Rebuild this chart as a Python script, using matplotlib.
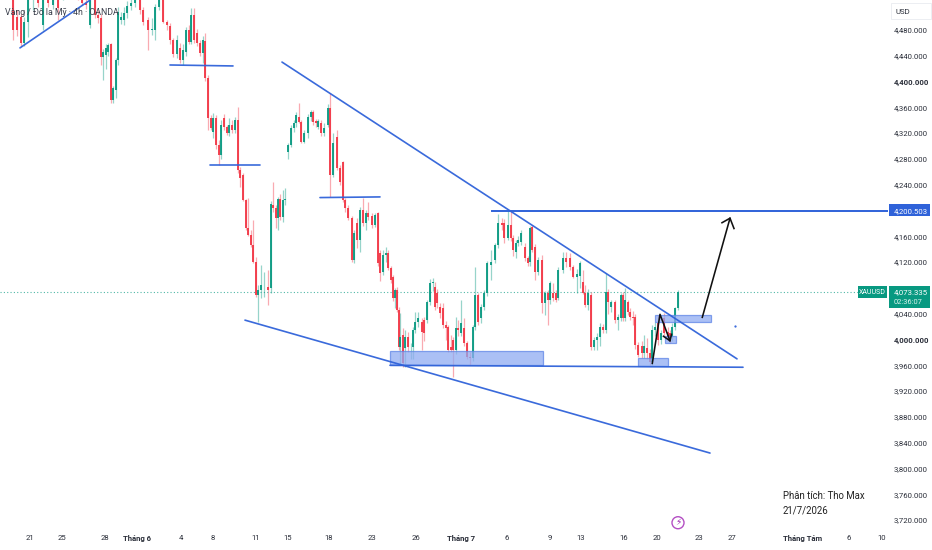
import matplotlib
matplotlib.use("Agg")
import matplotlib.pyplot as plt
from matplotlib.patches import Rectangle

plt.rcParams['font.family'] = ['Roboto', 'DejaVu Sans']

bar_x = [13,17,21,24,28,33,38,43,48,53,
58,63,68,73,78,82,86,90,95,98,
101,103,106,108,111,113,116,118,121,124,
127,131,135,140,143,148,152,155,159,163,
167,170,173,177,180,183,186,189,191,194,
197,200,203,205,208,211,213,216,219,221,
224,227,229,232,235,238,240,243,246,248,
251,253,256,258,261,264,268,271,273,276,
278,280,283,285,288,291,294,296,299,301,
304,308,311,313,316,318,321,324,328,330,
333,337,340,343,345,348,352,354,357,360,
363,366,368,372,375,378,380,383,386,388,
391,393,395,397,399,400,403,405,408,411,
413,415,418,422,424,427,430,433,435,437,
440,443,446,448,451,453,456,458,461,464,
467,470,473,475,478,481,484,487,491,495,
498,502,504,508,511,513,516,518,521,525,
528,530,532,535,538,542,545,548,550,553,
556,558,563,566,570,573,577,580,583,585,
588,591,594,597,600,603,606,608,611,615,
618,621,623,625,628,630,633,635,638,642,
644,647,650,652,655,658,661,664,668,670,
672,675,678]

opens = [4526,4500,4500,4459,4492,4526,4535,4487,4526,4519,
4530,4528,4540,4550,4545,4530,4522,4487,4526,4503,
4498,4438,4441,4446,4458,4371,4386,4433,4495,4495,
4506,4517,4521,4526,4511,4495,4480,4480,4515,4526,
4492,4486,4464,4442,4452,4433,4445,4480,4461,4503,
4475,4459,4444,4462,4405,4343,4321,4343,4301,4286,
4343,4329,4320,4332,4325,4340,4263,4255,4216,4173,
4162,4146,4120,4069,4077,4081,4081,4080,4208,4204,
4188,4218,4190,4216,4290,4301,4328,4335,4345,4337,
4306,4320,4345,4352,4338,4330,4335,4320,4332,4359,
4255,4314,4266,4275,4216,4204,4188,4123,4180,4154,
4201,4180,4196,4191,4177,4196,4134,4104,4131,4134,
4111,4097,4064,4076,4045,3988,4007,3987,4004,3988,
3988,4015,4027,4027,4030,4030,4058,4087,4081,4072,
4050,4049,4022,4019,3988,3999,3984,4018,4010,4018,
3994,3973,3971,4019,4069,4033,4050,4072,4115,4123,
4146,4180,4180,4157,4177,4158,4135,4150,4151,4143,
4126,4120,4174,4143,4104,4123,4056,4072,4061,4072,
4072,4064,4108,4126,4126,4112,4097,4098,4089,4072,
4053,4069,3988,3999,4004,4019,4015,4073,4050,4058,
4030,4033,4069,4033,4058,4042,4035,4035,3991,3990,
3979,3987,3979,3965,4015,4025,3999,4033,4011,4010,
4004,4019,4049]

closes = [4480,4480,4459,4492,4526,4535,4521,4526,4521,4530,
4514,4540,4550,4545,4530,4521,4518,4526,4503,4498,
4438,4445,4452,4456,4371,4390,4433,4507,4500,4506,
4517,4521,4528,4511,4492,4480,4481,4515,4526,4492,
4487,4464,4442,4464,4433,4449,4480,4461,4503,4464,
4459,4444,4464,4405,4343,4328,4343,4301,4286,4332,
4329,4320,4332,4325,4340,4263,4250,4216,4173,4162,
4146,4120,4069,4077,4084,4082,4076,4210,4204,4188,
4218,4190,4216,4217,4301,4328,4335,4348,4337,4306,
4320,4345,4352,4337,4335,4338,4320,4328,4359,4255,
4304,4266,4244,4216,4204,4188,4123,4165,4154,4201,
4180,4196,4190,4177,4193,4118,4103,4131,4134,4111,
4092,4064,4076,4045,3988,4004,3963,4004,3988,3989,
4015,4027,4033,4011,4010,4058,4087,4089,4050,4056,
4041,4022,4018,3984,3984,3984,4018,4015,4025,3994,
3973,3971,4019,4069,4027,4050,4072,4118,4120,4146,
4180,4177,4157,4177,4157,4139,4150,4154,4165,4126,
4118,4173,4139,4104,4123,4056,4072,4061,4087,4064,
4061,4108,4126,4120,4112,4097,4101,4118,4072,4053,
4072,3988,3999,4004,4019,4015,4073,4058,4058,4030,
4035,4069,4033,4061,4042,4035,4033,3991,3976,3979,
3990,3979,3965,4015,4019,3999,4010,4010,4004,3999,
4019,4049,4073.335]

highs = [4535,4510,4505,4500,4535,4545,4545,4535,4535,4540,
4540,4550,4560,4560,4555,4540,4530,4535,4535,4510,
4505,4450,4458,4459,4460,4393,4436,4515,4507,4515,
4525,4530,4535,4535,4515,4500,4498,4520,4535,4532,
4495,4490,4468,4472,4460,4458,4485,4488,4514,4514,
4482,4464,4470,4475,4410,4348,4351,4348,4310,4340,
4350,4333,4343,4340,4345,4360,4268,4258,4218,4220,
4170,4185,4128,4085,4115,4104,4108,4214,4244,4208,
4221,4225,4232,4235,4305,4332,4340,4352,4366,4340,
4325,4350,4356,4356,4342,4342,4340,4335,4365,4382,
4320,4325,4270,4277,4220,4208,4192,4170,4188,4205,
4219,4200,4213,4196,4196,4198,4138,4139,4143,4139,
4114,4100,4080,4082,4050,4041,4018,4015,4011,3995,
4020,4042,4042,4033,4035,4062,4094,4096,4089,4079,
4056,4056,4028,4023,4007,4004,4035,4030,4061,4033,
3998,3980,4023,4112,4072,4055,4076,4122,4139,4150,
4194,4188,4187,4201,4201,4162,4155,4160,4170,4150,
4130,4176,4177,4148,4128,4131,4075,4076,4090,4087,
4076,4112,4135,4135,4134,4116,4110,4122,4108,4085,
4078,4074,4004,4010,4025,4024,4103,4078,4062,4062,
4040,4072,4073,4080,4062,4049,4044,4040,3996,3997,
4007,4002,3985,4022,4027,4038,4015,4041,4020,4015,
4025,4050,4076]

lows = [4464,4470,4455,4455,4469,4510,4515,4480,4515,4512,
4495,4526,4530,4535,4527,4518,4512,4483,4498,4490,
4425,4402,4420,4440,4366,4366,4375,4425,4489,4488,
4498,4510,4515,4505,4487,4449,4472,4464,4510,4490,
4480,4458,4438,4436,4428,4425,4440,4458,4458,4460,
4455,4440,4428,4400,4325,4324,4312,4296,4270,4280,
4324,4317,4316,4320,4320,4258,4236,4214,4170,4160,
4144,4118,4066,4027,4065,4066,4053,4072,4198,4173,
4170,4185,4182,4208,4280,4298,4322,4330,4335,4304,
4304,4312,4338,4332,4330,4326,4315,4316,4330,4221,
4252,4262,4239,4213,4198,4185,4120,4118,4142,4135,
4176,4170,4185,4173,4175,4114,4090,4100,4120,4108,
4088,4060,4049,4042,3984,3960,3958,3958,3980,3970,
3970,4010,4020,3984,3998,4025,4054,4075,4045,4049,
4033,4018,3999,3980,3980,3942,3978,4005,4005,3990,
3970,3960,3966,4015,4022,4025,4045,4068,4092,4118,
4142,4170,4150,4155,4152,4130,4127,4145,4146,4122,
4114,4114,4135,4092,4100,4041,4038,4022,4055,4060,
4058,4061,4103,4112,4108,4095,4072,4080,4070,4050,
4045,3984,3983,3984,3990,4010,4010,4040,4042,4025,
4015,4028,4028,4028,4038,4030,4022,3986,3973,3971,
3972,3970,3960,3960,4005,3991,3993,4005,3997,3994,
3998,4015,4045]

price_ticks = [4480,4440,4400,4360,4320,4280,4240,4160,4120,4040,4000,
               3960,3920,3880,3840,3800,3760,3720]
date_pos = [30,62,105,137,181,213,256,288,329,372,416,461,507,550,581,624,657,699,732,803,849,882]
date_labels = ['21','25','28','Tháng 6','4','8','11','15','18','23','26','Tháng 7',
               '6','9','13','16','20','23','27','Tháng Tám','6','10']

trend_lines = [((20,4452),(90,4526)), ((170,4425.5),(233,4424)), ((210,4270.5),(260,4270.5)),
               ((320,4220),(380,4221)), ((282,4430),(737,3970)), ((245,4030),(710,3824)),
               ((390,3960),(743,3957))]
zones = [(390,543,3960,3982.6), (638,668,3959,3971), (655,711,4027.6,4037.5), (665,675.5,3995,4006)]
last_price = 4073.335
target_price = 4200.503

RED, GREEN, BLUE = '#f23645', '#089981', '#2f62d9'
INK = '#2a2e39'

fig = plt.figure(figsize=(9.32, 5.5), dpi=100, facecolor='white')
ax = fig.add_axes([0, 23/550, 888/932, 527/550])
ax.set_xlim(0, 888)
ax.set_ylim(4000 + (339.5 - 527) * 1.55, 4000 + 339.5 * 1.55)
for s in ax.spines.values():
    s.set_visible(False)

colors = [GREEN if c >= o else RED for o, c in zip(opens, closes)]
ax.vlines(bar_x, lows, highs, colors=colors, linewidth=0.9, alpha=0.42, zorder=2)
ax.bar(bar_x, [abs(c - o) for o, c in zip(opens, closes)],
       bottom=[min(o, c) for o, c in zip(opens, closes)],
       width=2.1, color=colors, alpha=0.92, linewidth=0, zorder=3)

ax.plot([0, 858], [last_price, last_price], color=GREEN, lw=0.8, ls=(0, (1, 2)), alpha=0.7, zorder=1)

for x0, x1, y0, y1 in zones:
    ax.add_patch(Rectangle((x0, y0), x1 - x0, y1 - y0, facecolor='#8fabf2', alpha=0.75,
                           edgecolor='#5f85e6', linewidth=0.9, zorder=4))
for (a, b) in trend_lines:
    ax.plot([a[0], b[0]], [a[1], b[1]], color=BLUE, lw=1.2, alpha=0.95, zorder=5, solid_capstyle='round')
ax.plot([492, 888], [target_price - 1, target_price - 1], color=BLUE, lw=1.4, zorder=5)
ax.plot([735], [4021], marker='.', ms=1.2, color=BLUE, zorder=5)

ax.plot([652.3, 660, 670], [3963, 4039, 3998], color='#111111', lw=1.15, zorder=6)
ax.plot([663.5, 670, 671.5], [4005, 3998, 4008], color='#111111', lw=1.15, zorder=6)
ax.plot([702.3, 730], [4034.4, 4188], color='#111111', lw=1.15, zorder=6)
ax.plot([722, 730, 734], [4181, 4188, 4172], color='#111111', lw=1.15, zorder=6)

ax.yaxis.tick_right()
ax.set_yticks(price_ticks)
ax.set_yticklabels([f'{p:,.3f}' for p in price_ticks], fontsize=5.6, color=INK)
for lab, p in zip(ax.get_yticklabels(), price_ticks):
    if p in (4400, 4000):
        lab.set_fontweight('bold')
ax.set_xticks(date_pos)
ax.set_xticklabels(date_labels, fontsize=5.6, color=INK)
for lab, t in zip(ax.get_xticklabels(), date_labels):
    if t.startswith('Tháng'):
        lab.set_fontweight('bold')
ax.tick_params(axis='y', length=0, pad=4.3)
ax.tick_params(axis='x', length=0, pad=5.5)

ax.text(5, 4507, 'Vàng / Đô la Mỹ · 4h · OANDA', fontsize=6.3, color='#3a3f4b', va='center', ha='left', zorder=7)
ax.text(895, 4507, 'USD', fontsize=5.6, color=INK, va='center', ha='left', clip_on=False)
ax.add_patch(Rectangle((891, 4497), 40, 25, facecolor='none', edgecolor='#eceef2', lw=0.7, clip_on=False))

ax.add_patch(Rectangle((858, 4064), 29, 18.5, facecolor=GREEN, edgecolor='none', zorder=8, clip_on=False))
ax.text(872.5, last_price, 'XAUUSD', fontsize=5.0, color='white', ha='center', va='center', zorder=9, clip_on=False)
ax.add_patch(Rectangle((889, 4049), 41, 33.5, facecolor=GREEN, edgecolor='none', zorder=8, clip_on=False))
ax.text(894, last_price, f'{last_price:,.3f}', fontsize=5.6, color='white', ha='left', va='center', zorder=9, clip_on=False)
ax.text(894, 4057.5, '02:36:07', fontsize=5.4, color='#d8f2ec', ha='left', va='center', zorder=9, clip_on=False)
ax.add_patch(Rectangle((889, 4191), 41, 19, facecolor=BLUE, edgecolor='none', zorder=8, clip_on=False))
ax.text(894, target_price - 1, f'{target_price:,.3f}', fontsize=5.6, color='white', ha='left', va='center', zorder=9, clip_on=False)

ax.text(783, 3758, 'Phân tích: Tho Max', fontsize=6.9, color='#222222', ha='left', va='center', zorder=7)
ax.text(783, 3735, '21/7/2026', fontsize=6.9, color='#222222', ha='left', va='center', zorder=7)

ax.text(678, 3716, '⚡', fontsize=6.5, color='#9c27b0', ha='center', va='center',
        family=['DejaVu Sans'], zorder=7)
ax.scatter([678], [3716], s=75, facecolor='none', edgecolor='#b44fc4', linewidth=1, zorder=7, clip_on=False)

fig.savefig('out.png', dpi=100, facecolor='white')
